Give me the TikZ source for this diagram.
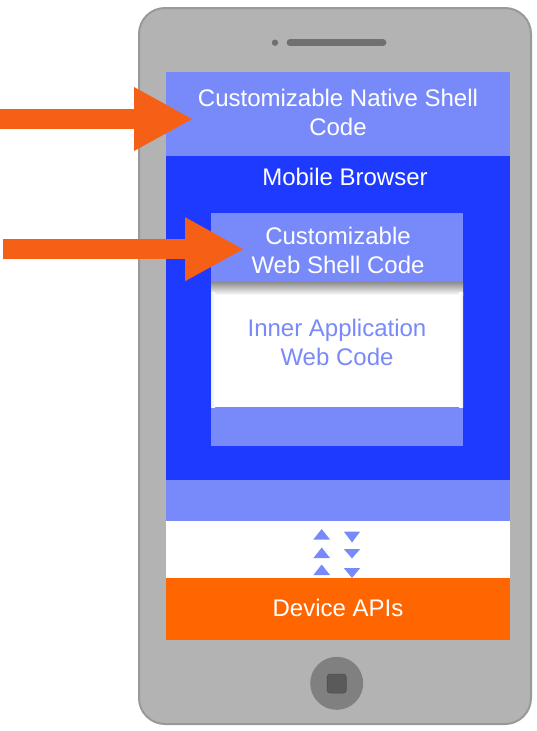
\documentclass[tikz,border=0pt]{standalone}
\usepackage{fontspec}
\setmainfont{Liberation Sans}
\usetikzlibrary{arrows.meta}
\definecolor{phonegray}{HTML}{B3B3B3}
\definecolor{phoneedge}{HTML}{999999}
\definecolor{lightblue}{RGB}{120,138,250}
\definecolor{darkblue}{RGB}{31,58,255}
\definecolor{devorange}{HTML}{FF6600}
\definecolor{arroworange}{RGB}{245,96,22}
\definecolor{speakergray}{HTML}{707070}
\definecolor{homegray}{HTML}{808080}
\definecolor{homedark}{HTML}{5A5A5A}
\tikzset{
  band/.style={inner sep=0pt, outer sep=0pt, draw=none},
  lbl/.style={inner sep=0pt, align=center, text=white, font=\fontsize{24}{29}\selectfont},
  tri/.style={fill=lightblue, draw=none},
  bigarrow/.style={draw=arroworange, -{Triangle[length=59.3pt, width=59.3pt]}}
}
\begin{document}
\begin{tikzpicture}[x=1pt,y=-1pt]
\useasboundingbox (0,0) rectangle (537,731);
% phone body
\node[band, fill=phonegray, draw=phoneedge, line width=2pt, rounded corners=26pt,
      minimum width=392pt, minimum height=716pt, anchor=north west] (phone) at (139,8) {};
% speaker
\fill[speakergray] (275,42.7) circle (3.2pt);
\draw[speakergray, line width=6.7pt, line cap=round] (290,42.7) -- (383,42.7);
% screen bands
\node[band, fill=lightblue, minimum width=344pt, minimum height=84pt, anchor=north west] (native) at (166,72) {};
\node[band, fill=darkblue, minimum width=344pt, minimum height=324pt, anchor=north west] (browser) at (166,156) {};
\node[band, fill=lightblue, minimum width=344pt, minimum height=41pt, anchor=north west] (lower) at (166,480) {};
\node[band, fill=white, minimum width=344pt, minimum height=57pt, anchor=north west] (bridge) at (166,521) {};
\node[band, fill=devorange, minimum width=344pt, minimum height=62pt, anchor=north west] (device) at (166,578) {};
% inner web shell
\node[band, fill=lightblue, minimum width=252pt, minimum height=233pt, anchor=north west] (webshell) at (211,213) {};
\node[band, fill=white, minimum width=252pt, minimum height=125pt, anchor=north west] (inner) at (211,282) {};
\shade[top color=black!45, bottom color=white] (211,282) rectangle (463,295);
\shade[left color=black!7, right color=white] (211,292) rectangle (215,407);
\shade[right color=black!7, left color=white] (459,292) rectangle (463,407);
% texts
\node[lbl] (tnative) at (338,112.5) {Customizable Native Shell\\Code};
\node[lbl] (tbrowser) at (345,177) {Mobile Browser};
\node[lbl] (tweb) at (338,250) {Customizable\\Web Shell Code};
\node[lbl, text=lightblue] (tinner) at (337,342.5) {Inner Application\\Web Code};
\node[lbl] (tdevice) at (338,608) {Device APIs};
% triangles
\foreach \t/\b in {529/539.5, 547.5/558, 564.5/575}{
  \fill[tri] (321.7,\t) -- (330,\b) -- (313.4,\b) -- cycle;
}
\foreach \t/\b in {531.5/542.5, 549/558.5, 568/578}{
  \fill[tri] (343.8,\t) -- (360.2,\t) -- (352,\b) -- cycle;
}
% home button
\node[band, circle, fill=homegray, minimum size=53pt] (home) at (336.7,683.3) {};
\node[band, fill=homedark, draw=black!70, line width=0.6pt, rounded corners=3pt, minimum size=19pt] (homekey) at (336.7,683.6) {};
% orange arrows
\coordinate (a1s) at (0,119);
\coordinate (a1t) at (193.3,119);
\coordinate (a2s) at (2.7,249.2);
\coordinate (a2t) at (244.3,249.2);
\draw[bigarrow, line width=19.4pt] (a1s) -- (a1t);
\draw[bigarrow, line width=19.7pt] (a2s) -- (a2t);
\end{tikzpicture}
\end{document}
